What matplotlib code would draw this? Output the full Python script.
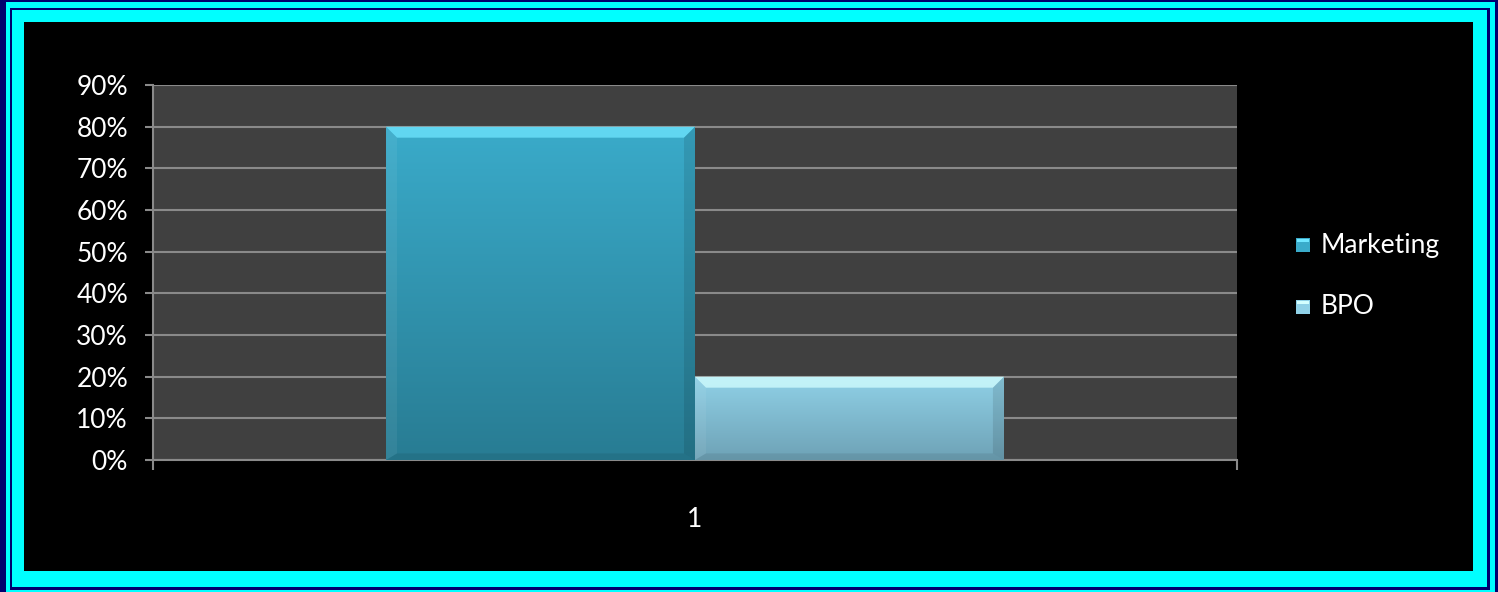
import matplotlib
matplotlib.use("Agg")
import matplotlib.pyplot as plt
import numpy as np
from matplotlib.patches import Rectangle, Polygon
from matplotlib.colors import LinearSegmentedColormap

# ---- data ----
categories = ["1"]
series_names = ["Marketing", "BPO"]
series_values = [0.80, 0.20]
y_ticks = [0, 0.1, 0.2, 0.3, 0.4, 0.5, 0.6, 0.7, 0.8, 0.9]
y_tick_labels = ["0%", "10%", "20%", "30%", "40%", "50%", "60%", "70%", "80%", "90%"]

# ---- styles ----
top_colors = ["#3aabca", "#90d1e7"]
bot_colors = ["#287c93", "#6ea2b6"]
hi_colors = ["#6fe6ff", "#d4ffff"]
W, H = 1498, 592
plt.rcParams['font.family'] = ['Lato', 'DejaVu Sans']

fig = plt.figure(figsize=(W / 100, H / 100), dpi=100)
fig.patch.set_facecolor("#000080")

def frect(x0, y0, x1, y1, color):
    fig.add_artist(Rectangle((x0 / W, 1 - y1 / H), (x1 - x0) / W, (y1 - y0) / H,
                             transform=fig.transFigure, facecolor=color,
                             edgecolor="none", zorder=0))

frect(0, 0, W, H, "#00006e")
frect(6, 2, 1495, 592, "#00ffff")
frect(10, 8, 1490, 590, "#00006e")
frect(12, 10, 1487, 587, "#00ffff")
frect(24, 22, 1473, 571, "#000000")

ax = fig.add_axes([153 / W, 1 - 460 / H, 1084 / W, 375 / H])
ax.set_facecolor("#404040")
ax.set_xlim(0.5, 1.5)
ax.set_ylim(0, 0.9)
for s in ["top", "right"]:
    ax.spines[s].set_visible(False)
for s in ["left", "bottom"]:
    ax.spines[s].set_color("#8a8a8a")
    ax.spines[s].set_linewidth(1.5)

ax.set_yticks(y_ticks)
ax.set_yticklabels(y_tick_labels)
ax.yaxis.grid(True, color="#8a8a8a", linewidth=1.5)
ax.set_axisbelow(True)
ax.tick_params(axis="y", colors="#8a8a8a", length=6, width=1.5, labelcolor="white",
               labelsize=19, pad=12)
ax.set_xticks([1])
ax.set_xticklabels(categories)
ax.set_xticks([0.5, 1.5], minor=True)
ax.tick_params(axis="x", which="major", length=0, labelcolor="white", labelsize=19, pad=34)
ax.tick_params(axis="x", which="minor", length=7, width=1.5, colors="#8a8a8a")

bw = 0.285
n = len(series_values)
xs = [1 + (i - (n - 1) / 2) * bw for i in range(n)]
bx = 11 / 1084      # bevel in data units (x)
by = 11 / 375 * 0.9  # bevel in data units (y)

for i, (x, v) in enumerate(zip(xs, series_values)):
    cmap = LinearSegmentedColormap.from_list("g", [bot_colors[i], top_colors[i]])
    bar = ax.bar(x, v, width=bw, color=top_colors[i], edgecolor="none", zorder=2,
                 label=series_names[i])[0]
    grad = np.linspace(0, 1, 256).reshape(-1, 1)
    im = ax.imshow(grad, aspect="auto", cmap=cmap, origin="lower",
                   extent=[x - bw / 2, x + bw / 2, 0, v], zorder=3)
    im.set_clip_path(bar)
    x0, x1 = x - bw / 2, x + bw / 2
    # bevels
    ax.add_patch(Polygon([(x0, v), (x1, v), (x1 - bx, v - by), (x0 + bx, v - by)],
                         closed=True, facecolor=hi_colors[i], edgecolor="none",
                         alpha=0.75, zorder=4))
    ax.add_patch(Polygon([(x0, 0), (x0, v), (x0 + bx, v - by), (x0 + bx, by * 0.6)],
                         closed=True, facecolor="white", edgecolor="none",
                         alpha=0.06, zorder=4))
    ax.add_patch(Polygon([(x1, 0), (x1, v), (x1 - bx, v - by), (x1 - bx, by * 0.6)],
                         closed=True, facecolor="black", edgecolor="none",
                         alpha=0.10, zorder=4))
    ax.add_patch(Polygon([(x0, 0), (x1, 0), (x1 - bx, by * 0.6), (x0 + bx, by * 0.6)],
                         closed=True, facecolor="black", edgecolor="none",
                         alpha=0.08, zorder=4))

# legend (manual)
leg_y = [245, 307]
for i, name in enumerate(series_names):
    yc = leg_y[i]
    sq = 14
    cmap = LinearSegmentedColormap.from_list("g", [bot_colors[i], top_colors[i]])
    fig.add_artist(Rectangle((1296 / W, 1 - (yc + sq / 2) / H), sq / W, sq / H,
                             transform=fig.transFigure, facecolor=top_colors[i],
                             edgecolor="none", zorder=5))
    fig.add_artist(Rectangle((1297 / W, 1 - (yc - sq / 2 + 4) / H), (sq - 2) / W, 3 / H,
                             transform=fig.transFigure, facecolor=hi_colors[i],
                             edgecolor="none", zorder=6))
    fig.text(1321 / W, 1 - yc / H, name, color="white", fontsize=19,
             va="center", ha="left")

fig.savefig("out.png", dpi=100, facecolor=fig.get_facecolor())
